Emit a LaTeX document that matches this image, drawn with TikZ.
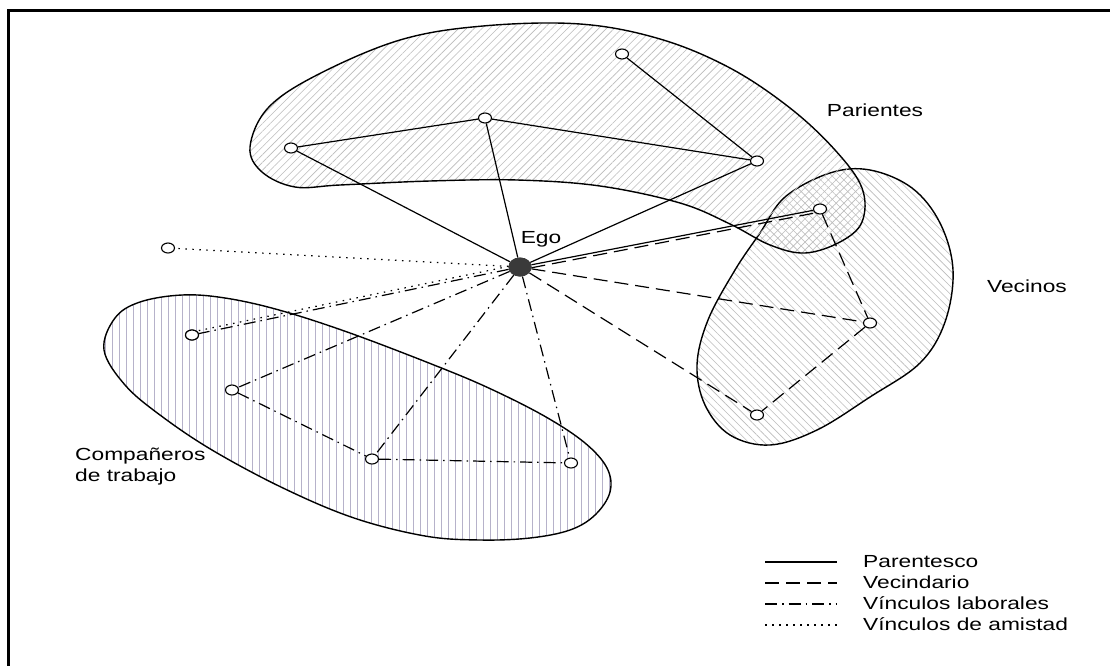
\documentclass[tikz,border=0pt]{standalone}
\usepackage{fontspec}
\newfontfamily\figfont[FakeStretch=1.3]{Liberation Sans}
\usetikzlibrary{patterns.meta, shapes.geometric}
\definecolor{kinhatch}{HTML}{BCBCBC}
\definecolor{workhatch}{HTML}{B6B2CA}
\definecolor{egofill}{HTML}{3A3A3A}

\begin{document}
\begin{tikzpicture}[
  x=1pt, y=-1pt,
  font=\figfont\fontsize{17.5}{21}\selectfont,
  pers/.style={draw, ellipse, fill=white, line width=1.1pt, inner sep=0pt, minimum width=13pt, minimum height=10pt},
  egonode/.style={ellipse, fill=egofill, inner sep=0pt, minimum width=23pt, minimum height=19pt},
  kin/.style={line width=1.2pt},
  vec/.style={line width=1.2pt, dash pattern=on 14pt off 7pt},
  lab/.style={line width=1.2pt, dash pattern=on 12pt off 5pt on 1.5pt off 5pt},
  ami/.style={line width=1.2pt, dash pattern=on 1.5pt off 5.5pt},
  region/.style={draw, line width=1.4pt},
  lbl/.style={inner sep=0pt, anchor=base}
]
  \useasboundingbox[fill=white] (0,0) rectangle (1110,666);
  % page frame
  \draw[line width=3pt] (8,666) -- (8,11) -- (1110,11);

  % Regions
  \draw[region, pattern={Lines[angle=-45,distance=5.5pt,line width=0.6pt]}, pattern color=kinhatch]
    plot[smooth cycle, tension=0.6] coordinates {(760,233) (785,197) (830,173) (870,170) (912,188) (940,223) (953,270) (945,322) (920,363) (870,397) (817,430) (770,445) (730,435) (705,405) (697,365) (708,320) (735,270)};
  \draw[region, pattern={Lines[angle=45,distance=5.5pt,line width=0.6pt]}, pattern color=kinhatch]
    plot[smooth cycle, tension=0.6] coordinates {(250,147) (268,108) (317,75) (400,40) (483,26) (580,24) (660,39) (730,68) (790,108) (835,150) (862,188) (862,222) (840,242) (805,253) (770,245) (730,224) (680,203) (600,186) (517,180) (430,181) (340,185) (295,187) (262,172)};
  \draw[region, pattern={Lines[angle=90,distance=7pt,line width=0.7pt]}, pattern color=workhatch]
    plot[smooth cycle, tension=0.6] coordinates {(104,350) (115,318) (140,302) (182,295) (225,298) (279,310) (350,333) (439,367) (493,390) (546,417) (585,443) (607,468) (610,492) (595,515) (570,530) (530,538) (480,540) (425,536) (354,518) (283,488) (212,450) (160,415) (125,385)};

  % People
  \node[egonode] (ego) at (520,267) {};
  \node[pers] (p1) at (291,148) {};
  \node[pers] (p2) at (485,118) {};
  \node[pers] (p3) at (622,54) {};
  \node[pers] (p4) at (757,161) {};
  \node[pers] (v1) at (820,209) {};
  \node[pers] (v2) at (870,323) {};
  \node[pers] (v3) at (757,415) {};
  \node[pers] (f1) at (168,248) {};
  \node[pers] (w1) at (192,335) {};
  \node[pers] (w2) at (232,390) {};
  \node[pers] (w3) at (372,459) {};
  \node[pers] (w4) at (571,463) {};

  % Labels
  \node[lbl] (egolbl) at (541,243) {Ego};
  \node[lbl] (parlbl) at (875,117) {Parientes};
  \node[lbl] (veclbl) at (1027,292) {Vecinos};
  \node[lbl, anchor=base west, align=left] (comlbl) at (75,481) {Compañeros\\de trabajo};

  % Kinship
  \draw[kin] (ego) -- (p1);
  \draw[kin] (ego) -- (p2);
  \draw[kin] (ego) -- (p4);
  \draw[kin] (p1) -- (p2);
  \draw[kin] (p2) -- (p4);
  \draw[kin] (p3) -- (p4);
  \draw[kin] (ego) -- (v1);
  % Neighbours
  \draw[vec, transform canvas={yshift=-3pt}] (ego) -- (v1);
  \draw[vec] (ego) -- (v2);
  \draw[vec] (ego) -- (v3);
  \draw[vec] (v1) -- (v2);
  \draw[vec] (v2) -- (v3);
  % Work
  \draw[lab] (ego) -- (w1);
  \draw[lab] (ego) -- (w2);
  \draw[lab] (ego) -- (w3);
  \draw[lab] (ego) -- (w4);
  \draw[lab] (w2) -- (w3);
  \draw[lab] (w3) -- (w4);
  % Friendship
  \draw[ami] (ego) -- (f1);
  \draw[ami, transform canvas={yshift=3pt}] (ego) -- (w1);
  \node[egonode] at (ego) {};
  \node[pers] at (w1) {};

  % Legend
  \coordinate (la1) at (765,562); \coordinate (lb1) at (837,562);
  \coordinate (la2) at (765,583); \coordinate (lb2) at (837,583);
  \coordinate (la3) at (765,604); \coordinate (lb3) at (837,604);
  \coordinate (la4) at (765,625); \coordinate (lb4) at (837,625);
  \draw[kin] (la1) -- (lb1);
  \draw[vec] (la2) -- (lb2);
  \draw[lab] (la3) -- (lb3);
  \draw[ami] (la4) -- (lb4);
  \node[lbl, anchor=base west] (lg1) at (863,567) {Parentesco};
  \node[lbl, anchor=base west] (lg2) at (863,588) {Vecindario};
  \node[lbl, anchor=base west] (lg3) at (863,609) {Vínculos laborales};
  \node[lbl, anchor=base west] (lg4) at (863,630) {Vínculos de amistad};
\end{tikzpicture}
\end{document}
